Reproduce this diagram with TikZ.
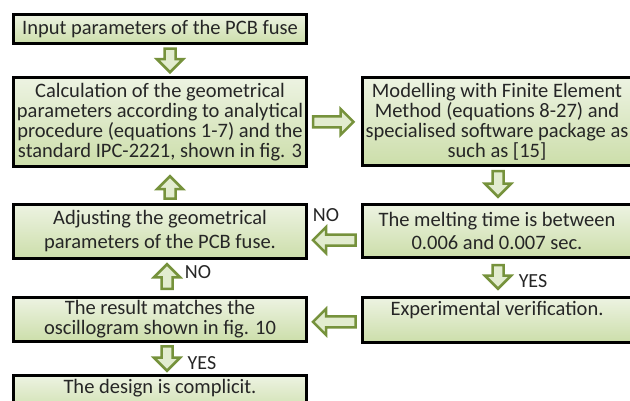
\documentclass[tikz,border=0pt]{standalone}
\usepackage{fontspec}
\setmainfont{Carlito}
\usetikzlibrary{shapes.arrows, calc}

\definecolor{boxtop}{RGB}{237,243,226}
\definecolor{boxbot}{RGB}{204,222,170}
\definecolor{arrowline}{RGB}{118,146,60}
\definecolor{arrowfill}{RGB}{226,236,207}
\definecolor{textgray}{RGB}{38,38,38}

\newcommand{\boxfont}[1]{\fontsize{20.5}{#1}\selectfont}

\tikzset{
  box/.style={draw=black, line width=3pt, top color=boxtop, bottom color=boxbot,
    text=textgray, align=center, inner sep=0pt, minimum width=293pt},
  blockarrow/.style={single arrow, draw=arrowline, line width=2.5pt, fill=arrowfill,
    single arrow head extend=7.5pt, text height=4.25pt, text depth=4.25pt,
    inner sep=0pt, minimum width=0pt, anchor=tail},
  lbl/.style={text=textgray, font=\fontsize{20}{22}\selectfont, inner sep=0pt}
}

\begin{document}
\begin{tikzpicture}[x=1pt, y=-1pt]

  % Picture frame (630 x 401)
  \clip (0,0) rectangle (630,401);

  % Column centres
  \def\xl{160}    % left column
  \def\xr{497}    % right column
  \def\wr{270pt}  % width of the right boxes

  % ==============================================
  % 1. LEFT COLUMN
  % ==============================================
  \node[box, minimum height=29pt, font=\boxfont{22}] (input) at (\xl, 29)
    {Input parameters of the PCB fuse};
  \node[box, minimum height=89pt, font=\boxfont{20}] (calc) at (\xl, 122)
    {Calculation of the geometrical\\parameters according to analytical\\procedure (equations 1-7) and the\\standard IPC-2221, shown in fig. 3};
  \node[box, minimum height=54pt, font=\boxfont{24}] (adjust) at (\xl, 231.5)
    {Adjusting the geometrical\\parameters of the PCB fuse.};
  \node[box, minimum height=44pt, font=\boxfont{20}] (result) at (\xl, 319.5)
    {The result matches the\\oscillogram shown in fig. 10};
  % Last box, cut by the bottom of the picture
  \node[box, anchor=north, text height=17.5pt, text depth=22pt, font=\boxfont{22}] (design) at (\xl, 374)
    {The design is complicit.};

  % ==============================================
  % 2. RIGHT COLUMN
  % ==============================================
  \node[box, minimum width=\wr, minimum height=88pt, font=\boxfont{20}] (fem) at (\xr, 121.5)
    {Modelling with Finite Element\\Method (equations 8-27) and\\specialised software package as\\such as [15]};
  \node[box, minimum width=\wr, minimum height=53pt, font=\boxfont{23}] (melt) at (\xr, 231)
    {The melting time is between\\0.006 and 0.007 sec.};
  % Text sits at the top of the box
  \node[box, minimum width=\wr, text height=17.5pt, text depth=27.5pt, font=\boxfont{22}] (exper) at (\xr, 320)
    {Experimental verification.};

  % ==============================================
  % 3. BLOCK ARROWS between the boxes
  % ==============================================
  % from / to / rotation / outer length / shift x / shift y
  \foreach \a/\b/\rot/\L/\dx/\dy [count=\i] in {
      input.south/calc.north/-90/26/10/0,
      adjust.north/calc.south/90/25/10/2,
      calc.east/fem.west/0/43/-1/0,
      fem.south/melt.north/-90/28/1/-1,
      melt.west/adjust.east/180/45/0/9,
      melt.south/exper.north/-90/26/1/-0.5,
      exper.west/result.east/180/45/0/2,
      result.north/adjust.south/90/27/7/-1.5,
      result.south/design.north/-90/27/7/0} {
    \pgfmathsetmacro{\hl}{\L/2}     % half length, back from the middle
    \pgfmathsetmacro{\len}{\L-2.5}  % length of the outline
    \node[blockarrow, rotate=\rot, minimum height=\len pt] (arr\i)
      at ($(\a)!0.5!(\b)!\hl pt!(\a) + (\dx,\dy)$) {};
  }

  % Decision labels next to the arrows
  \foreach \txt/\x/\y [count=\i] in {NO/326/215, YES/533/281, NO/198/272, YES/202/363} {
    \node[lbl] (ans\i) at (\x, \y) {\txt};
  }

\end{tikzpicture}
\end{document}
